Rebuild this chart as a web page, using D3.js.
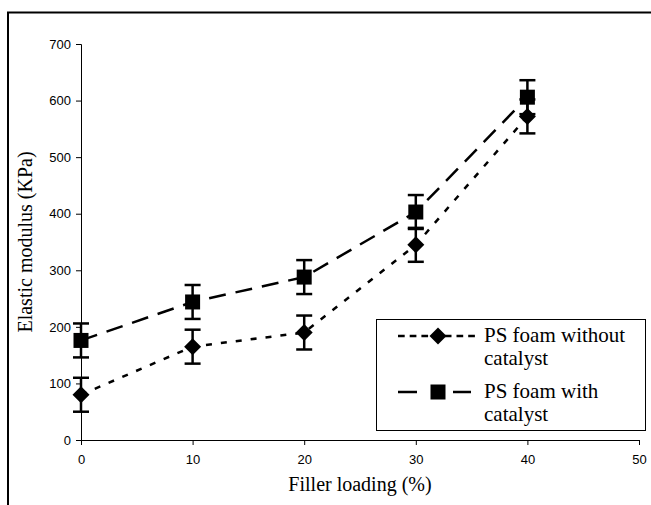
<!DOCTYPE html>
<html><head><meta charset="utf-8">
<script src="https://cdn.jsdelivr.net/npm/d3@7"></script>
<style>body{margin:0;background:#fff}</style>
</head><body><svg id="c" width="651" height="505"></svg>
<script>
const fillerLoading = [0, 10, 20, 30, 40];
const withoutCatalyst = [80, 165, 190, 345, 572];
const withCatalyst = [176, 244, 288, 403, 606];
const errWithout = [30, 30, 30, 30, 30];
const errWith = [30, 30, 30, 30, 30];
const xTicks = [0, 10, 20, 30, 40, 50];
const yTicks = [0, 100, 200, 300, 400, 500, 600, 700];
const legendWithout = ["PS foam without", "catalyst"];
const legendWith = ["PS foam with", "catalyst"];
const xTitle = "Filler loading (%)";
const yTitle = "Elastic modulus (KPa)";

const svg = d3.select("#c");
const x = d3.scaleLinear().domain([0, 50]).range([81, 639]);
const y = d3.scaleLinear().domain([0, 700]).range([440, 44]);

// outer frame (clipped by image edges)
svg.append("rect").attr("x", 8).attr("y", 12.5).attr("width", 700).attr("height", 600)
  .attr("fill", "none").attr("stroke", "#000").attr("stroke-width", 2);

const sans = "'Liberation Sans', Arial, sans-serif";
const serif = "'Liberation Serif', 'Times New Roman', serif";

const xAxis = svg.append("g").attr("transform", `translate(0,${y(0)})`)
  .call(d3.axisBottom(x).tickValues(xTicks).tickSize(5).tickPadding(10).tickFormat(d3.format("d")));
const yAxis = svg.append("g").attr("transform", `translate(${x(0)},0)`)
  .call(d3.axisLeft(y).tickValues(yTicks).tickSize(5).tickPadding(5).tickFormat(d3.format("d")));
[xAxis, yAxis].forEach(a => {
  a.select(".domain").attr("stroke", "#000").attr("stroke-width", 1);
  a.selectAll(".tick line").attr("stroke", "#000");
  a.selectAll("text").attr("font-family", sans).attr("font-size", 13).attr("fill", "#000");
});

svg.append("text").attr("x", x(25)).attr("y", 491).attr("text-anchor", "middle")
  .attr("font-family", serif).attr("font-size", 20).text(xTitle);
svg.append("text").attr("transform", `translate(32,${y(350)}) rotate(-90)`).attr("text-anchor", "middle")
  .attr("font-family", serif).attr("font-size", 20).text(yTitle);

const dotted = "6,9", dashed = "17,10";
const series = [
  {vals: withoutCatalyst, err: errWithout, dash: dotted, shape: "diamond"},
  {vals: withCatalyst, err: errWith, dash: dashed, shape: "square"}
];
const line = d3.line().x(d => x(d[0])).y(d => y(d[1]));

function marker(g, shape, cx, cy) {
  if (shape === "square") {
    g.append("rect").attr("x", cx - 7.5).attr("y", cy - 7.5).attr("width", 15).attr("height", 15).attr("fill", "#000");
  } else {
    const r = 8.5;
    g.append("path").attr("d", `M${cx},${cy - r}L${cx + r},${cy}L${cx},${cy + r}L${cx - r},${cy}Z`).attr("fill", "#000");
  }
}

series.forEach(s => {
  const pts = fillerLoading.map((f, i) => [f, s.vals[i], s.err[i]]);
  svg.append("path").datum(pts).attr("d", line).attr("fill", "none").attr("stroke", "#000")
    .attr("stroke-width", 2.5).attr("stroke-dasharray", s.dash);
  const g = svg.append("g");
  pts.forEach(p => {
    const cx = x(p[0]), top = y(p[1] + p[2]), bot = y(p[1] - p[2]);
    g.append("line").attr("x1", cx).attr("x2", cx).attr("y1", top).attr("y2", bot).attr("stroke", "#000").attr("stroke-width", 2.5);
    [top, bot].forEach(yy => g.append("line").attr("x1", cx - 8).attr("x2", cx + 8).attr("y1", yy).attr("y2", yy)
      .attr("stroke", "#000").attr("stroke-width", 2.5));
    marker(g, s.shape, cx, y(p[1]));
  });
});

// legend
const lg = svg.append("g");
lg.append("rect").attr("x", 376.5).attr("y", 319.5).attr("width", 269).attr("height", 111)
  .attr("fill", "#fff").attr("stroke", "#000").attr("stroke-width", 1);
const entries = [
  {lines: legendWithout, dash: "6.7,5", shape: "diamond", cy: 336},
  {lines: legendWith, dash: "19,36,18", shape: "square", cy: 392}
];
entries.forEach(e => {
  lg.append("line").attr("x1", 398).attr("x2", 478).attr("y1", e.cy).attr("y2", e.cy)
    .attr("stroke", "#000").attr("stroke-width", 2.5).attr("stroke-dasharray", e.dash);
  marker(lg, e.shape, 438, e.cy);
  e.lines.forEach((t, i) => lg.append("text").attr("x", 484).attr("y", e.cy + 6 + i * 23)
    .attr("font-family", serif).attr("font-size", 21).text(t));
});
</script></body></html>
